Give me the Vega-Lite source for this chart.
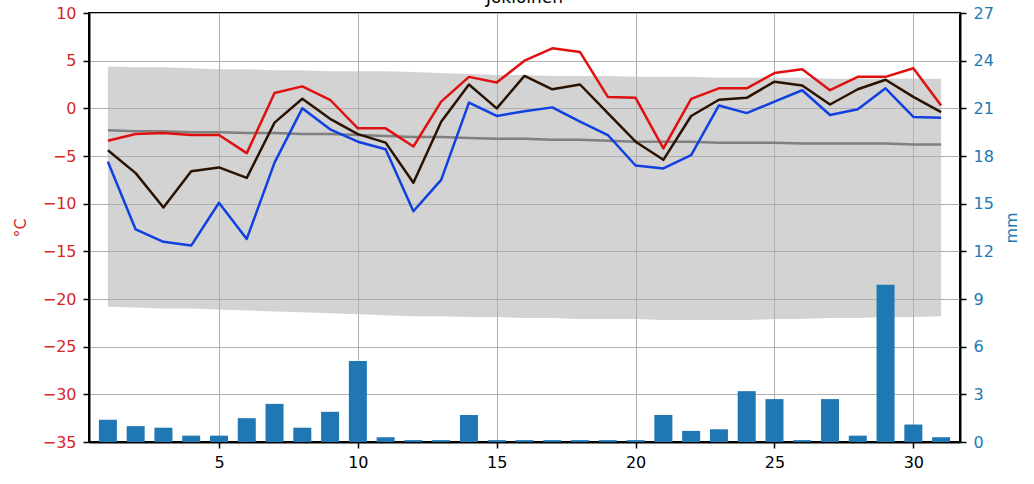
{
  "$schema": "https://vega.github.io/schema/vega-lite/v6.json",
  "autosize": "none",
  "width": 871,
  "height": 429,
  "padding": {"left": 89, "top": 13, "right": 74, "bottom": 42},
  "background": "white",
  "config": {
    "font": "DejaVu Sans",
    "view": {"stroke": "black", "strokeWidth": 2},
    "axis": {
      "labelFont": "DejaVu Sans",
      "titleFont": "DejaVu Sans",
      "labelFontSize": 16,
      "titleFontSize": 16,
      "titleFontWeight": "normal",
      "domainColor": "black",
      "domainWidth": 2,
      "tickColor": "black",
      "tickWidth": 1.5,
      "tickSize": 6,
      "gridColor": "#b0b0b0",
      "gridWidth": 1,
      "gridOpacity": 1
    }
  },
  "title": {
    "text": "Jokioinen",
    "frame": "group",
    "anchor": "middle",
    "offset": -15,
    "fontSize": 17,
    "font": "DejaVu Sans",
    "fontWeight": "normal",
    "color": "black",
    "baseline": "alphabetic"
  },
  "data": {
    "values": [
      {"day": 1, "tmax": -3.4, "tmean": -4.4, "tmin": -5.6, "precip": 1.4, "cmax": 4.4, "cmin": -20.8, "cmean": -2.3},
      {"day": 2, "tmax": -2.7, "tmean": -6.8, "tmin": -12.7, "precip": 1.0, "cmax": 4.3, "cmin": -20.9, "cmean": -2.4},
      {"day": 3, "tmax": -2.6, "tmean": -10.4, "tmin": -14.0, "precip": 0.9, "cmax": 4.3, "cmin": -21.0, "cmean": -2.4},
      {"day": 4, "tmax": -2.8, "tmean": -6.6, "tmin": -14.4, "precip": 0.4, "cmax": 4.2, "cmin": -21.0, "cmean": -2.5},
      {"day": 5, "tmax": -2.8, "tmean": -6.2, "tmin": -9.9, "precip": 0.4, "cmax": 4.1, "cmin": -21.1, "cmean": -2.5},
      {"day": 6, "tmax": -4.7, "tmean": -7.3, "tmin": -13.7, "precip": 1.5, "cmax": 4.1, "cmin": -21.2, "cmean": -2.6},
      {"day": 7, "tmax": 1.6, "tmean": -1.5, "tmin": -5.7, "precip": 2.4, "cmax": 4.0, "cmin": -21.3, "cmean": -2.6},
      {"day": 8, "tmax": 2.3, "tmean": 1.0, "tmin": 0.0, "precip": 0.9, "cmax": 4.0, "cmin": -21.4, "cmean": -2.7},
      {"day": 9, "tmax": 0.9, "tmean": -1.1, "tmin": -2.2, "precip": 1.9, "cmax": 3.9, "cmin": -21.5, "cmean": -2.7},
      {"day": 10, "tmax": -2.1, "tmean": -2.7, "tmin": -3.5, "precip": 5.1, "cmax": 3.9, "cmin": -21.6, "cmean": -2.8},
      {"day": 11, "tmax": -2.1, "tmean": -3.6, "tmin": -4.3, "precip": 0.3, "cmax": 3.9, "cmin": -21.7, "cmean": -2.9},
      {"day": 12, "tmax": -4.0, "tmean": -7.8, "tmin": -10.8, "precip": 0.12, "cmax": 3.8, "cmin": -21.8, "cmean": -3.0},
      {"day": 13, "tmax": 0.7, "tmean": -1.4, "tmin": -7.5, "precip": 0.12, "cmax": 3.7, "cmin": -21.8, "cmean": -3.0},
      {"day": 14, "tmax": 3.3, "tmean": 2.5, "tmin": 0.6, "precip": 1.7, "cmax": 3.6, "cmin": -21.9, "cmean": -3.1},
      {"day": 15, "tmax": 2.7, "tmean": 0.0, "tmin": -0.8, "precip": 0.12, "cmax": 3.5, "cmin": -21.9, "cmean": -3.2},
      {"day": 16, "tmax": 5.0, "tmean": 3.4, "tmin": -0.3, "precip": 0.12, "cmax": 3.5, "cmin": -22.0, "cmean": -3.2},
      {"day": 17, "tmax": 6.3, "tmean": 2.0, "tmin": 0.1, "precip": 0.12, "cmax": 3.4, "cmin": -22.0, "cmean": -3.3},
      {"day": 18, "tmax": 5.9, "tmean": 2.5, "tmin": -1.4, "precip": 0.12, "cmax": 3.4, "cmin": -22.1, "cmean": -3.3},
      {"day": 19, "tmax": 1.2, "tmean": -0.5, "tmin": -2.8, "precip": 0.12, "cmax": 3.4, "cmin": -22.1, "cmean": -3.4},
      {"day": 20, "tmax": 1.1, "tmean": -3.5, "tmin": -6.0, "precip": 0.12, "cmax": 3.3, "cmin": -22.1, "cmean": -3.5},
      {"day": 21, "tmax": -4.2, "tmean": -5.4, "tmin": -6.3, "precip": 1.7, "cmax": 3.3, "cmin": -22.2, "cmean": -3.5},
      {"day": 22, "tmax": 1.0, "tmean": -0.8, "tmin": -4.9, "precip": 0.7, "cmax": 3.3, "cmin": -22.2, "cmean": -3.5},
      {"day": 23, "tmax": 2.1, "tmean": 0.9, "tmin": 0.3, "precip": 0.8, "cmax": 3.2, "cmin": -22.2, "cmean": -3.6},
      {"day": 24, "tmax": 2.1, "tmean": 1.1, "tmin": -0.5, "precip": 3.2, "cmax": 3.2, "cmin": -22.2, "cmean": -3.6},
      {"day": 25, "tmax": 3.7, "tmean": 2.8, "tmin": 0.7, "precip": 2.7, "cmax": 3.2, "cmin": -22.1, "cmean": -3.6},
      {"day": 26, "tmax": 4.1, "tmean": 2.4, "tmin": 1.9, "precip": 0.12, "cmax": 3.2, "cmin": -22.1, "cmean": -3.7},
      {"day": 27, "tmax": 1.9, "tmean": 0.4, "tmin": -0.7, "precip": 2.7, "cmax": 3.1, "cmin": -22.0, "cmean": -3.7},
      {"day": 28, "tmax": 3.3, "tmean": 2.0, "tmin": -0.1, "precip": 0.4, "cmax": 3.1, "cmin": -22.0, "cmean": -3.7},
      {"day": 29, "tmax": 3.3, "tmean": 3.0, "tmin": 2.1, "precip": 9.9, "cmax": 3.1, "cmin": -21.9, "cmean": -3.7},
      {"day": 30, "tmax": 4.2, "tmean": 1.2, "tmin": -0.9, "precip": 1.1, "cmax": 3.1, "cmin": -21.9, "cmean": -3.8},
      {"day": 31, "tmax": 0.3, "tmean": -0.4, "tmin": -1.0, "precip": 0.3, "cmax": 3.1, "cmin": -21.8, "cmean": -3.8}
    ]
  },
  "encoding": {
    "x": {
      "field": "day",
      "type": "quantitative",
      "scale": {"domain": [0.5, 31.5], "nice": false, "zero": false},
      "axis": {
        "values": [5, 10, 15, 20, 25, 30],
        "title": null,
        "grid": true,
        "labelColor": "black",
        "labelPadding": 6,
        "labelFlush": false
      }
    }
  },
  "layer": [
    {
      "layer": [
        {
          "mark": {"type": "area", "color": "#b0b0b0", "opacity": 0.557},
          "encoding": {
            "y": {"field": "cmax", "type": "quantitative"},
            "y2": {"field": "cmin"}
          }
        },
        {
          "mark": {"type": "line", "color": "#808080", "strokeWidth": 2.5},
          "encoding": {"y": {"field": "cmean", "type": "quantitative"}}
        },
        {
          "mark": {"type": "line", "color": "#e01010", "strokeWidth": 2.5, "strokeJoin": "round"},
          "encoding": {"y": {"field": "tmax", "type": "quantitative"}}
        },
        {
          "mark": {"type": "line", "color": "#2a1200", "strokeWidth": 2.5, "strokeJoin": "round"},
          "encoding": {"y": {"field": "tmean", "type": "quantitative"}}
        },
        {
          "mark": {"type": "line", "color": "#1040e0", "strokeWidth": 2.5, "strokeJoin": "round"},
          "encoding": {"y": {"field": "tmin", "type": "quantitative"}}
        }
      ],
      "encoding": {
        "y": {
          "type": "quantitative",
          "scale": {"domain": [-35, 10], "nice": false, "zero": false},
          "axis": {
            "orient": "left",
            "values": [-35, -30, -25, -20, -15, -10, -5, 0, 5, 10],
            "title": "°C",
            "titleColor": "#d62728",
            "labelColor": "#d62728",
            "titlePadding": 14,
            "labelPadding": 7,
            "grid": true
          }
        }
      }
    },
    {
      "mark": {"type": "bar", "color": "#1f77b4", "width": 18},
      "encoding": {
        "y": {
          "field": "precip",
          "type": "quantitative",
          "scale": {"domain": [0, 27], "nice": false},
          "axis": {
            "orient": "right",
            "values": [0, 3, 6, 9, 12, 15, 18, 21, 24, 27],
            "title": "mm",
            "titleColor": "#1f77b4",
            "labelColor": "#1f77b4",
            "titleAngle": 270,
            "titlePadding": 26,
            "labelPadding": 7,
            "grid": false
          }
        }
      }
    }
  ],
  "resolve": {"scale": {"y": "independent"}, "axis": {"y": "independent"}}
}
